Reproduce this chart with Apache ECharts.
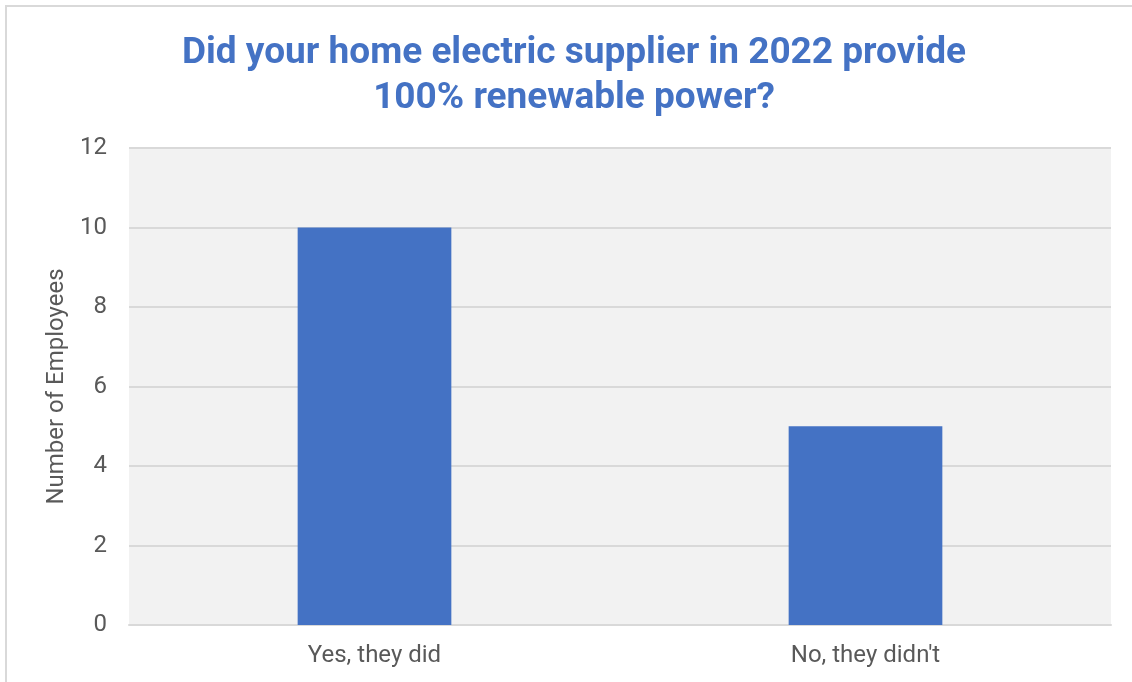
<!DOCTYPE html>
<html>
<head>
<meta charset="utf-8">
<script src="https://cdn.jsdelivr.net/npm/echarts@6/dist/echarts.min.js"></script>
<style>
  html, body { margin: 0; padding: 0; background: #ffffff; }
  #chart { width: 1132px; height: 682px; }
</style>
</head>
<body>
<div id="chart"></div>
<script>
// Survey answers and employee counts
const categories = ["Yes, they did", "No, they didn't"];
const employees = [10, 5];
const yTicks = { min: 0, max: 12, interval: 2 };
const titleText = "Did your home electric supplier in 2022 provide\n100% renewable power?";
const yAxisTitle = "Number of Employees";

const chart = echarts.init(document.getElementById('chart'), null, { renderer: 'canvas' });

chart.setOption({
  backgroundColor: '#ffffff',
  animation: false,
  title: {
    text: titleText,
    left: 569,
    top: 26,
    textAlign: 'center',
    textStyle: {
      fontFamily: 'Roboto',
      fontWeight: 'bold',
      fontSize: 37,
      lineHeight: 45,
      color: '#4472C4'
    }
  },
  graphic: [{
    type: 'rect',
    shape: { x: 6, y: 6, width: 1400, height: 900 },
    style: { fill: 'none', stroke: '#D9D9D9', lineWidth: 2 },
    silent: true,
    z: 100
  }],
  grid: {
    left: 129,
    right: 21,
    top: 148,
    bottom: 57,
    show: true,
    backgroundColor: '#F2F2F2',
    borderWidth: 0
  },
  xAxis: {
    type: 'category',
    data: categories,
    axisTick: { show: false },
    axisLine: { show: true, lineStyle: { color: '#D9D9D9', width: 2 } },
    axisLabel: {
      fontFamily: 'Roboto',
      fontSize: 24,
      color: '#595959',
      margin: 19
    }
  },
  yAxis: {
    type: 'value',
    min: yTicks.min,
    max: yTicks.max,
    interval: yTicks.interval,
    name: yAxisTitle,
    nameLocation: 'middle',
    nameGap: 60,
    nameTextStyle: {
      fontFamily: 'Roboto',
      fontSize: 24,
      color: '#595959'
    },
    axisLine: { show: false },
    axisTick: { show: false },
    splitLine: { show: true, lineStyle: { color: '#D9D9D9', width: 2 } },
    axisLabel: {
      fontFamily: 'Roboto',
      fontSize: 24,
      color: '#595959',
      margin: 22
    }
  },
  series: [{
    type: 'bar',
    data: employees,
    barWidth: '31.3%',
    itemStyle: { color: '#4472C4' }
  }]
});
</script>
</body>
</html>
